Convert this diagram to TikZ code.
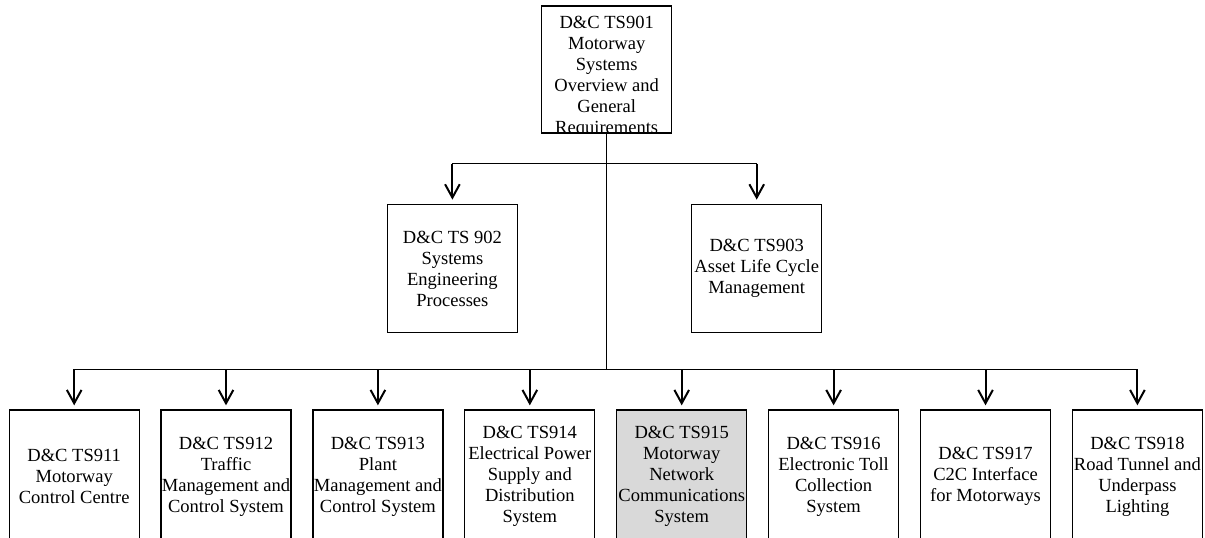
\documentclass[tikz,border=0pt]{standalone}
\usepackage{fontspec}
\setmainfont{Liberation Serif}
\usetikzlibrary{arrows.meta}
\definecolor{shadegray}{RGB}{217,217,217}
\tikzset{every picture/.style={line width=0.75pt}}
\tikzset{
  docbox/.style={draw, line width=1pt, minimum width=97.5pt, inner sep=0pt, align=center,
    font=\fontsize{13.9pt}{15.75pt}\selectfont},
  downarrow/.style={line width=1.5pt, -{Straight Barb[length=10pt,width=11pt]}, shorten >=3pt}
}

\begin{document}
\begin{tikzpicture}[x=0.75pt,y=0.75pt,yscale=-1,xscale=1]
\useasboundingbox (0,0) rectangle (1205,537);
\clip (0,0) rectangle (1205,537);

%Shape: Rectangle [top]
\node[docbox, minimum height=95.25pt] (ts901) at (606.7,69.5) {};
\begin{scope}
\clip (ts901.south west) rectangle (ts901.north east);
\node[anchor=north, inner sep=0pt, align=center, font=\fontsize{13.9pt}{15.75pt}\selectfont] (ts901text) at ([yshift=7.8pt]ts901.north)
  {D\&C TS901\\Motorway\\Systems\\Overview and\\General\\Requirements};
\end{scope}

%Shape: Rectangle [middle row]
\node[docbox, minimum height=96.3pt] (ts902) at (452.4,268.5) {D\&C TS 902\\Systems\\Engineering\\Processes};
\node[docbox, minimum height=96.3pt] (ts903) at (756.7,268.5) {D\&C TS903\\Asset Life Cycle\\Management};

%Shape: Rectangle [bottom row]
\node[docbox, minimum height=99.75pt] (ts911) at (74.2,476.5) {D\&C TS911\\Motorway\\Control Centre};
\node[docbox, minimum height=99.75pt] (ts912) at (226.0,476.5) {D\&C TS912\\Traffic\\Management and\\Control System};
\node[docbox, minimum height=99.75pt] (ts913) at (377.9,476.5) {D\&C TS913\\Plant\\Management and\\Control System};
\node[docbox, minimum height=99.75pt] (ts914) at (529.8,476.5) {D\&C TS914\\Electrical Power\\Supply and\\Distribution\\System};
\node[docbox, minimum height=99.75pt, fill=shadegray] (ts915) at (681.7,476.5) {D\&C TS915\\Motorway\\Network\\Communications\\System};
\node[docbox, minimum height=99.75pt] (ts916) at (833.6,476.5) {D\&C TS916\\Electronic Toll\\Collection\\System};
\node[docbox, minimum height=99.75pt] (ts917) at (985.5,476.5) {D\&C TS917\\C2C Interface\\for Motorways};
\node[docbox, minimum height=99.75pt] (ts918) at (1137.4,476.5) {D\&C TS918\\Road Tunnel and\\Underpass\\Lighting};

%Straight Lines [buses]
\coordinate (midbus) at (605,163.5);
\coordinate (lowbus) at (605,369);
\draw (ts901.south) -- (ts901.south |- lowbus);
\draw (ts902.north |- midbus) -- (ts903.north |- midbus);
\draw (ts911.north |- lowbus) -- (ts918.north |- lowbus);

%Straight Lines [arrows]
\draw[downarrow] (ts902.north |- midbus) -- (ts902.north);
\draw[downarrow] (ts903.north |- midbus) -- (ts903.north);
\draw[downarrow] (ts911.north |- lowbus) -- (ts911.north);
\draw[downarrow] (ts912.north |- lowbus) -- (ts912.north);
\draw[downarrow] (ts913.north |- lowbus) -- (ts913.north);
\draw[downarrow] (ts914.north |- lowbus) -- (ts914.north);
\draw[downarrow] (ts915.north |- lowbus) -- (ts915.north);
\draw[downarrow] (ts916.north |- lowbus) -- (ts916.north);
\draw[downarrow] (ts917.north |- lowbus) -- (ts917.north);
\draw[downarrow] (ts918.north |- lowbus) -- (ts918.north);

\end{tikzpicture}
\end{document}
